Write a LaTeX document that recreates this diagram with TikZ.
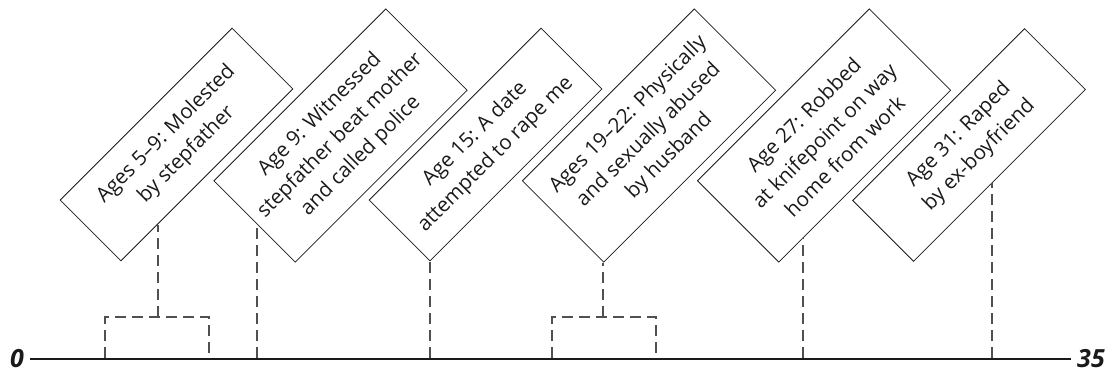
\documentclass[tikz,border=0pt]{standalone}
\usepackage{fontspec}
\setmainfont{Open Sans}
\usetikzlibrary{calc}
\definecolor{ink}{HTML}{1A1A1A}
\definecolor{dashgrey}{HTML}{505050}
\tikzset{
  event/.style={draw=ink,line width=0.8pt,rotate=45,minimum width=243pt,inner sep=0pt,
                align=center,text=ink,font=\fontsize{20.5}{29}\selectfont},
  twoline/.style={event,minimum height=86pt},
  threeline/.style={event,minimum height=115pt},
  drop/.style={draw=dashgrey,line width=1.1pt,dash pattern=on 11pt off 6pt},
  axis/.style={draw=ink,line width=2.8pt},
  endlabel/.style={font=\fontsize{25}{25}\selectfont\bfseries\itshape,text=ink,
                   inner xsep=6pt,inner ysep=0pt},
}

\begin{document}
\begin{tikzpicture}[x=1pt,y=-1pt]
  \useasboundingbox (0,0) rectangle (1113,371);

  % ---------------------------------------------------------------- events
  \node[twoline]   (r1) at (176.5,144.5) {Ages 5--9: Molested\\by stepfather};
  \node[threeline] (r2) at (340.5,135.5) {Age 9: Witnessed\\stepfather beat mother\\and called police};
  \node[twoline]   (r3) at (485.5,144.5) {Age 15: A date\\attempted to rape me};
  \node[threeline] (r4) at (649,135.5)   {Ages 19--22: Physically\\and sexually abused\\by husband};
  \node[threeline] (r5) at (824,135.5)   {Age 27: Robbed\\at knifepoint on way\\home from work};
  \node[twoline]   (r6) at (969,145)     {Age 31: Raped\\by ex-boyfriend};

  % points where the drops leave the boxes
  \coordinate (e1) at ($(r1.south west)!0.21!(r1.south east)$);
  \coordinate (e2) at ($(r2.north west)!0.53!(r2.south west)$);
  \coordinate (e3) at (r3.south west);
  \coordinate (e4) at (r4.south west);
  \coordinate (e5) at ($(r5.south west)!0.145!(r5.south east)$);
  \coordinate (e6) at ($(r6.south west)!0.46!(r6.south east)$);

  % ---------------------------------------------------------------- timeline
  \coordinate (a5)  at (105,358);
  \coordinate (a9)  at (209,358);
  \coordinate (w9)  at (257,358);
  \coordinate (a15) at (430,358);
  \coordinate (a19) at (552,358);
  \coordinate (a22) at (656,358);
  \coordinate (a27) at (803,358);
  \coordinate (a31) at (992,358);
  \coordinate (m1)  at (158,317);
  \coordinate (m4)  at (603,317);

  \draw[drop] (a5) |- (m1) -| (a9);
  \draw[drop] (m1) -- (m1 |- e1);
  \draw[drop] (w9) -- (w9 |- e2);
  \draw[drop] (a15) -- (a15 |- e3);
  \draw[drop] (a19) |- (m4) -| (a22);
  \draw[drop] (m4) -- (m4 |- e4);
  \draw[drop] (a27) -- (a27 |- e5);
  \draw[drop] (a31) -- (a31 |- e6);

  \node[endlabel] (zero) at (17,359) {0};
  \node[endlabel] (top)  at (1091,359) {35};
  \draw[axis] (zero) -- (top);
\end{tikzpicture}
\end{document}
